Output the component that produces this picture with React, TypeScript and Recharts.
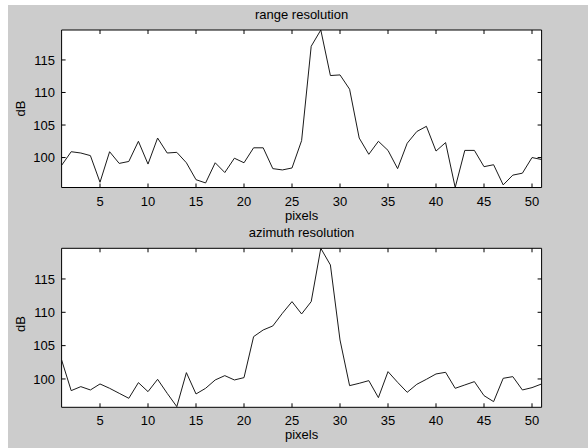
import React from 'react';
import { LineChart, Line, XAxis, YAxis, CartesianGrid } from 'recharts';

const PIXELS = [
  1, 2, 3, 4, 5, 6, 7, 8, 9, 10, 11, 12, 13, 14, 15, 16, 17, 18, 19, 20, 21, 22, 23, 24, 25, 26,
  27, 28, 29, 30, 31, 32, 33, 34, 35, 36, 37, 38, 39, 40, 41, 42, 43, 44, 45, 46, 47, 48, 49, 50, 51,
];

const RANGE_DB = [
  98.8, 100.9, 100.7, 100.3, 96.2, 100.9, 99.1, 99.4, 102.5, 99.0,
  103.0, 100.7, 100.8, 99.2, 96.6, 96.1, 99.2, 97.7, 99.9, 99.2,
  101.5, 101.5, 98.3, 98.1, 98.4, 102.6, 117.1, 119.6, 112.6, 112.7,
  110.5, 103.0, 100.5, 102.5, 101.1, 98.3, 102.2, 104.0, 104.8, 101.0,
  102.3, 95.4, 101.1, 101.1, 98.6, 98.9, 95.8, 97.3, 97.6, 100.0, 99.7,
];

const AZIMUTH_DB = [
  102.85, 98.25, 98.85, 98.35, 99.25, 98.6, 97.85, 97.1, 99.45, 98.1,
  99.95, 97.85, 95.85, 100.95, 97.75, 98.6, 99.85, 100.5, 99.85, 100.2,
  106.35, 107.35, 107.95, 109.85, 111.6, 109.75, 111.6, 119.6, 117.1, 105.85,
  99.0, 99.35, 99.75, 97.2, 101.1, 99.5, 98.0, 99.2, 99.95, 100.75,
  101.0, 98.6, 99.1, 99.6, 97.5, 96.6, 100.1, 100.35, 98.35, 98.7, 99.25,
];

const X_TICKS = [5, 10, 15, 20, 25, 30, 35, 40, 45, 50];
const Y_TICKS = [100, 105, 110, 115];

const rangeData = PIXELS.map((px, i) => ({ px, db: RANGE_DB[i] }));
const azimuthData = PIXELS.map((px, i) => ({ px, db: AZIMUTH_DB[i] }));

const FONT = '"Liberation Sans", Arial, Helvetica, sans-serif';
const FS = 13;
const TICK = 4;
const BG = '#cccccc';

const tickText = { fontFamily: FONT, fontSize: FS, fill: '#000' };

const bottomTick = (gap: number) => (p: any) => (
  <g>
    <line x1={p.x} y1={p.y} x2={p.x} y2={p.y - TICK} stroke="#000" />
    <text x={p.x} y={p.y + gap} dy="0.71em" textAnchor="middle" {...tickText}>
      {p.payload.value}
    </text>
  </g>
);

const topTick = (p: any) => <line x1={p.x} y1={p.y} x2={p.x} y2={p.y + TICK} stroke="#000" />;

const leftTick = (p: any) => (
  <g>
    <line x1={p.x} y1={p.y} x2={p.x + TICK} y2={p.y} stroke="#000" />
    <text x={p.x - 6.6} y={p.y} dy="0.355em" textAnchor="end" {...tickText}>
      {p.payload.value}
    </text>
  </g>
);

const rightTick = (p: any) => <line x1={p.x} y1={p.y} x2={p.x - TICK} y2={p.y} stroke="#000" />;

type PanelProps = {
  data: { px: number; db: number }[];
  yDomain: [number, number];
  height: number;
  topH: number;
  bottomH: number;
  labelGap: number;
};

const Panel: React.FC<PanelProps> = ({ data, yDomain, height, topH, bottomH, labelGap }) => (
  <LineChart width={580} height={height} data={data} margin={{ top: 0, right: 0, bottom: 0, left: 0 }}>
    <CartesianGrid fill="#ffffff" stroke="none" horizontal={false} vertical={false} />
    <XAxis
      dataKey="px"
      type="number"
      domain={[1, 51]}
      ticks={X_TICKS}
      allowDataOverflow
      height={bottomH}
      tickSize={0}
      tickMargin={0}
      tickLine={false}
      axisLine={{ stroke: '#000' }}
      tick={bottomTick(labelGap)}
    />
    <XAxis
      xAxisId="top"
      orientation="top"
      dataKey="px"
      type="number"
      domain={[1, 51]}
      ticks={X_TICKS}
      allowDataOverflow
      height={topH}
      tickSize={0}
      tickMargin={0}
      tickLine={false}
      axisLine={{ stroke: '#000' }}
      tick={topTick}
    />
    <YAxis
      type="number"
      domain={yDomain}
      ticks={Y_TICKS}
      allowDataOverflow
      width={53.6}
      tickSize={0}
      tickMargin={0}
      tickLine={false}
      axisLine={{ stroke: '#000' }}
      tick={leftTick}
    />
    <YAxis
      yAxisId="right"
      orientation="right"
      type="number"
      domain={yDomain}
      ticks={Y_TICKS}
      allowDataOverflow
      width={46.4}
      tickSize={0}
      tickMargin={0}
      tickLine={false}
      axisLine={{ stroke: '#000' }}
      tick={rightTick}
    />
    <Line
      type="linear"
      dataKey="db"
      stroke="#1a1a1a"
      strokeWidth={1}
      dot={false}
      isAnimationActive={false}
    />
  </LineChart>
);

const label = { fontFamily: FONT, fontSize: FS, fill: '#000' };

const App: React.FC = () => {
  return (
    <div style={{ position: 'absolute', left: 8, top: 5, width: 580, height: 443, background: BG }}>
      <div style={{ position: 'absolute', left: 0, top: 0 }}>
        <Panel data={rangeData} yDomain={[95.4, 119.6]} height={215} topH={25} bottomH={32.5} labelGap={9} />
      </div>
      <div style={{ position: 'absolute', left: 0, top: 215 }}>
        <Panel data={azimuthData} yDomain={[95.75, 119.6]} height={228} topH={28.3} bottomH={40.7} labelGap={8} />
      </div>
      <svg width={580} height={443} style={{ position: 'absolute', left: 0, top: 0, pointerEvents: 'none' }}>
        <text x={293.6} y={14} textAnchor="middle" {...label}>range resolution</text>
        <text x={293.6} y={215} textAnchor="middle" {...label}>pixels</text>
        <text x={293.6} y={232.3} textAnchor="middle" {...label}>azimuth resolution</text>
        <text x={293.6} y={434} textAnchor="middle" {...label}>pixels</text>
        <text x={12.8} y={103.5} textAnchor="middle" dominantBaseline="central" transform="rotate(-90 12.8 103.5)" {...label}>dB</text>
        <text x={12.8} y={319} textAnchor="middle" dominantBaseline="central" transform="rotate(-90 12.8 319)" {...label}>dB</text>
      </svg>
    </div>
  );
};

export default App;
